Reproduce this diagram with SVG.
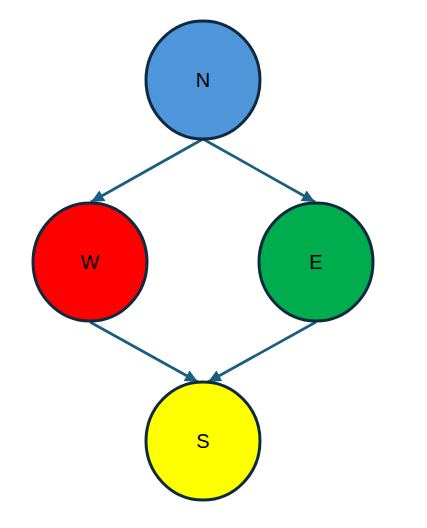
<svg xmlns="http://www.w3.org/2000/svg" width="427" height="528" viewBox="0 0 427 528">
<defs>
<marker id="arr" markerUnits="userSpaceOnUse" markerWidth="13" markerHeight="13" viewBox="0 0 13 13" refX="13" refY="6.5" orient="auto">
<path d="M0,0.5 L13,6.5 L0,12.5 Z" fill="#1a5e80"/>
</marker>
<style>
.node{stroke:#0f2a3e;stroke-width:3}
.lbl{font-family:"Liberation Sans",Arial,sans-serif;font-size:20px;fill:#000;text-anchor:middle;dominant-baseline:central}
.edge{stroke:#1a5e80;stroke-width:2.7;fill:none;marker-end:url(#arr)}
</style>
</defs>
<rect width="427" height="528" fill="#fff"/>
<g id="connectors">
<line class="edge" x1="203" y1="139" x2="91" y2="202"/>
<line class="edge" x1="203" y1="139" x2="315" y2="202"/>
<line class="edge" x1="90" y1="322" x2="198" y2="382"/>
<line class="edge" x1="316" y1="322" x2="208" y2="382"/>
</g>
<g id="N">
<ellipse class="node" cx="203" cy="80" rx="57" ry="59" fill="#4f95d9"/>
<text class="lbl" x="203" y="80">N</text>
</g>
<g id="W">
<ellipse class="node" cx="90" cy="262" rx="57" ry="59" fill="#ff0000"/>
<text class="lbl" x="90" y="262">W</text>
</g>
<g id="E">
<ellipse class="node" cx="316" cy="262" rx="57" ry="59" fill="#00ad4e"/>
<text class="lbl" x="316" y="262">E</text>
</g>
<g id="S">
<ellipse class="node" cx="203" cy="441" rx="57" ry="59" fill="#ffff00"/>
<text class="lbl" x="203" y="441">S</text>
</g>
</svg>
